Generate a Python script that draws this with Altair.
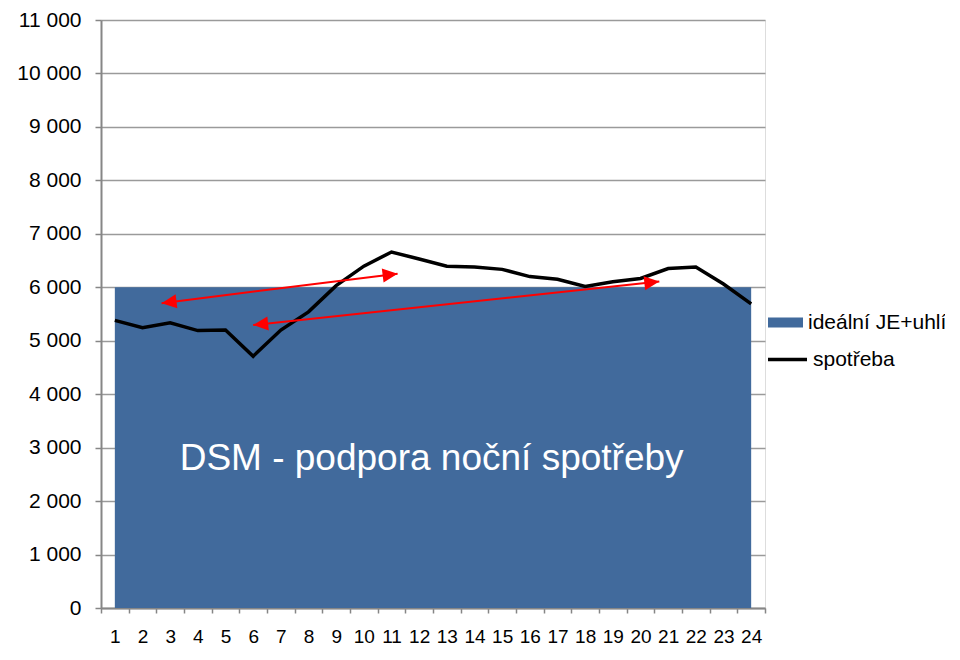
import math
import altair as alt
import pandas as pd

# ---- data ----
hours = list(range(1, 25))
spotreba = [5380, 5245, 5335, 5190, 5200, 4710, 5200, 5540, 6030, 6395, 6660, 6530,
            6395, 6380, 6335, 6200, 6150, 6015, 6105, 6165, 6350, 6380, 6060, 5690]
idealni = [6000] * 24
series_names = ["ideální JE+uhlí", "spotřeba"]

arrow_x1 = [2.69, 6.0]
arrow_y1 = [5703, 5293]
arrow_x2 = [11.22, 20.68]
arrow_y2 = [6255, 6107]

note_text = ["DSM - podpora noční spotřeby"]
note_x = [12.45]
note_y = [2590]

# ---- geometry / style ----
W, H = 664, 588
Y_MAX = 11000
BLUE = "#416A9C"
FONT = "Liberation Sans"
AXIS_GRAY = "#868686"

df = pd.DataFrame({"hodina": hours, "ideal": idealni, "spotreba": spotreba,
                   "s1": series_names[0], "s2": series_names[1]})

ang = []
for a, b, c, d in zip(arrow_x1, arrow_y1, arrow_x2, arrow_y2):
    dxp = (c - a) * W / 24.0
    dyp = -(d - b) * H / Y_MAX
    ang.append(math.degrees(math.atan2(dyp, dxp)) % 360)
arrows = pd.DataFrame({"ax1": arrow_x1, "ay1": arrow_y1, "ax2": arrow_x2,
                       "ay2": arrow_y2, "ang": ang})
notes = pd.DataFrame({"t": note_text, "nx": note_x, "ny": note_y})

y_axis = alt.Axis(
    title=None, values=list(range(0, Y_MAX + 1, 1000)),
    labelExpr="replace(format(datum.value, ','), ',', ' ')",
    domainColor=AXIS_GRAY, domainWidth=2, tickColor=AXIS_GRAY, tickWidth=1.5,
    tickSize=6, labelPadding=14, labelFontSize=21, labelFont=FONT, labelColor="black",
    gridColor="#9a9a9a", gridWidth=1.5, grid=True)
y_scale = alt.Scale(domain=[0, Y_MAX], nice=False, zero=True)

x_band = alt.X("hodina:O", sort=hours,
               scale=alt.Scale(type="band", paddingInner=0, paddingOuter=0),
               axis=alt.Axis(title=None, labelAngle=0, tickBand="extent",
                             domainColor=AXIS_GRAY, domainWidth=2, tickColor=AXIS_GRAY,
                             tickWidth=1.5, tickSize=5, labelPadding=14, labelFontSize=19,
                             labelFont=FONT, labelColor="black", labelOverlap=False,
                             grid=False))

area = alt.Chart(df).mark_area(opacity=1).encode(
    x=x_band,
    y=alt.Y("ideal:Q", scale=y_scale, axis=y_axis),
    fill=alt.Fill("s1:N", scale=alt.Scale(domain=[series_names[0]], range=[BLUE]),
                  legend=alt.Legend(title=None, orient="none", legendX=667, legendY=285,
                                    symbolType="M-1,-0.29L1,-0.29L1,0.29L-1,0.29Z",
                                    symbolSize=1225, symbolStrokeWidth=0, symbolOpacity=1,
                                    labelFontSize=21, labelFont=FONT, labelColor="black",
                                    labelOffset=5, labelLimit=300, padding=0)),
)

line = alt.Chart(df).mark_line(strokeWidth=3.5).encode(
    x=x_band,
    y=alt.Y("spotreba:Q", scale=y_scale, axis=y_axis),
    stroke=alt.Stroke("s2:N", scale=alt.Scale(domain=[series_names[1]], range=["black"]),
                      legend=alt.Legend(title=None, orient="none", legendX=665, legendY=318,
                                        symbolType="stroke", symbolSize=1521,
                                        symbolStrokeWidth=3.5,
                                        labelFontSize=21, labelFont=FONT, labelColor="black",
                                        labelOffset=4, labelLimit=300, padding=0)),
)

main = alt.layer(area, line)

xq_scale = alt.Scale(domain=[0.5, 24.5], nice=False, zero=False)

rules = alt.Chart(arrows).mark_rule(color="#FF0000", strokeWidth=2).encode(
    x=alt.X("ax1:Q", scale=xq_scale, axis=None),
    x2="ax2:Q",
    y=alt.Y("ay1:Q", scale=y_scale, axis=y_axis),
    y2="ay2:Q",
)
head_r = alt.Chart(arrows).mark_point(
    shape="M0,0L-1,-0.47L-1,0.47Z", size=900, filled=True, color="#FF0000",
    opacity=1, strokeWidth=0).encode(
    x=alt.X("ax2:Q", scale=xq_scale, axis=None),
    y=alt.Y("ay2:Q", scale=y_scale, axis=y_axis),
    angle=alt.Angle("ang:Q", scale=None),
)
head_l = alt.Chart(arrows).mark_point(
    shape="M0,0L1,-0.47L1,0.47Z", size=900, filled=True, color="#FF0000",
    opacity=1, strokeWidth=0).encode(
    x=alt.X("ax1:Q", scale=xq_scale, axis=None),
    y=alt.Y("ay1:Q", scale=y_scale, axis=y_axis),
    angle=alt.Angle("ang:Q", scale=None),
)
text = alt.Chart(notes).mark_text(fontSize=37, font=FONT, color="white",
                                  align="center", baseline="alphabetic").encode(
    x=alt.X("nx:Q", scale=xq_scale, axis=None),
    y=alt.Y("ny:Q", scale=y_scale, axis=y_axis),
    text="t:N",
)

overlay = alt.layer(text, rules, head_r, head_l)

chart = alt.layer(main, overlay).resolve_scale(x="independent").properties(
    width=W, height=H,
    autosize=alt.AutoSizeParams(type="none"),
    padding={"left": 93, "top": 12, "right": 180, "bottom": 42},
).configure_view(stroke=None).configure(background="white")

chart.save("out.html", embed_options={"renderer": "svg", "actions": False})
